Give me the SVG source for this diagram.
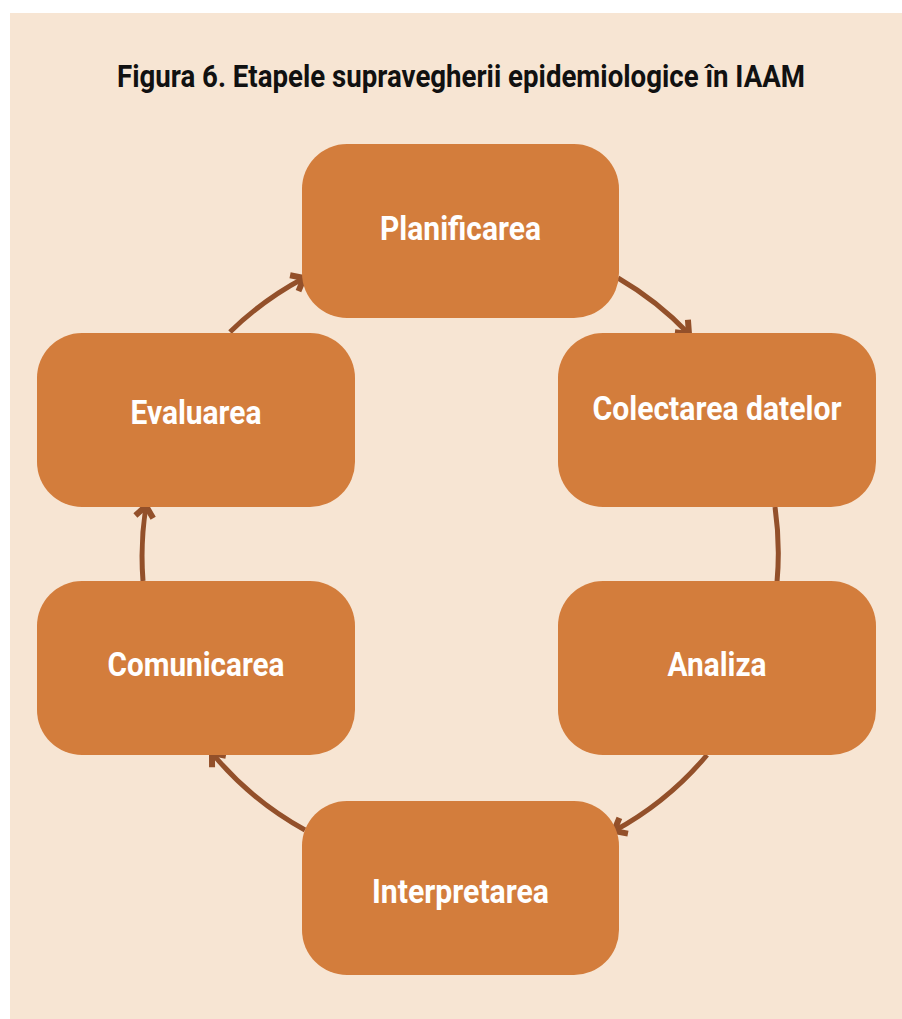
<svg xmlns="http://www.w3.org/2000/svg" width="902" height="1019" viewBox="0 0 902 1019">
<style>
.box{fill:#D37D3C;}
.lbl{font-family:Roboto,"Liberation Sans",sans-serif;font-weight:bold;font-size:34px;fill:#FFFFFF;}
.ttl{font-family:Roboto,"Liberation Sans",sans-serif;font-weight:bold;font-size:31px;fill:#111111;}
.con{fill:none;stroke:#93502A;stroke-width:5;}
</style>
<defs>
<marker id="ah" markerUnits="userSpaceOnUse" viewBox="-16 -12 20 24" refX="0" refY="0" markerWidth="20" markerHeight="24" orient="auto">
<path d="M-11,-9 L0,0 L-11,9" fill="none" stroke="#93502A" stroke-width="6"/>
</marker>
</defs>
<rect x="10" y="13" width="892" height="1006" fill="#F7E5D3"/>
<text class="ttl" x="461" y="87" text-anchor="middle" textLength="688" lengthAdjust="spacingAndGlyphs">Figura 6. Etapele supravegherii epidemiologice în IAAM</text>
<g id="connectors">
<path class="con" d="M618,278 A320,320 0 0 1 689,334" marker-end="url(#ah)"/>
<path class="con" d="M775,507 A320,320 0 0 1 777,582"/>
<path class="con" d="M707,755 A320,320 0 0 1 614,831" marker-end="url(#ah)"/>
<path class="con" d="M305,830 A320,320 0 0 1 212,753" marker-end="url(#ah)"/>
<path class="con" d="M143,581 A320,320 0 0 1 146,506" marker-end="url(#ah)"/>
<path class="con" d="M230,332 A320,320 0 0 1 304,278" marker-end="url(#ah)"/>
</g>
<g id="planificarea">
<rect class="box" x="302" y="144" width="317" height="174" rx="45"/>
<text class="lbl" x="460.5" y="240" text-anchor="middle" textLength="161" lengthAdjust="spacingAndGlyphs">Planificarea</text>
</g>
<g id="colectarea">
<rect class="box" x="558" y="333" width="318" height="174" rx="45"/>
<text class="lbl" x="717" y="420" text-anchor="middle" textLength="249" lengthAdjust="spacingAndGlyphs">Colectarea datelor</text>
</g>
<g id="evaluarea">
<rect class="box" x="37" y="333" width="318" height="174" rx="45"/>
<text class="lbl" x="196" y="424" text-anchor="middle" textLength="131" lengthAdjust="spacingAndGlyphs">Evaluarea</text>
</g>
<g id="comunicarea">
<rect class="box" x="37" y="581" width="318" height="174" rx="45"/>
<text class="lbl" x="196" y="676" text-anchor="middle" textLength="177" lengthAdjust="spacingAndGlyphs">Comunicarea</text>
</g>
<g id="analiza">
<rect class="box" x="558" y="581" width="318" height="174" rx="45"/>
<text class="lbl" x="717" y="676" text-anchor="middle" textLength="99" lengthAdjust="spacingAndGlyphs">Analiza</text>
</g>
<g id="interpretarea">
<rect class="box" x="302" y="801" width="317" height="174" rx="45"/>
<text class="lbl" x="460.5" y="903" text-anchor="middle" textLength="177" lengthAdjust="spacingAndGlyphs">Interpretarea</text>
</g>
</svg>
